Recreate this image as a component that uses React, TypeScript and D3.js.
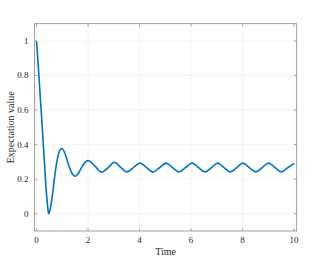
import React from 'react';
import * as d3 from 'd3';

// readings: time and expectation value
const timeVals = [0, 0.05, 0.1, 0.15, 0.2, 0.25, 0.3, 0.35, 0.4, 0.44, 0.47, 0.52, 0.6, 0.69, 0.8, 0.9, 0.99, 1.1, 1.25, 1.4, 1.5, 1.6, 1.75, 1.9, 2.02,
  2.27, 2.52, 2.77, 3.02, 3.27, 3.51, 3.76, 4.02, 4.27, 4.52, 4.77, 5.03, 5.28, 5.53, 5.78, 6.04, 6.29, 6.54, 6.79, 7.03, 7.28, 7.52, 7.77, 8.01, 8.26, 8.52, 8.76, 9.01, 9.26, 9.5, 9.75, 10];
const expVals = [1, 0.89, 0.78, 0.66, 0.55, 0.43, 0.31, 0.19, 0.09, 0.03, 0.0, 0.02, 0.09, 0.2, 0.31, 0.365, 0.378, 0.35, 0.28, 0.228, 0.217, 0.228, 0.268, 0.3, 0.307,
  0.275, 0.24, 0.266, 0.298, 0.268, 0.242, 0.267, 0.294, 0.267, 0.241, 0.266, 0.293, 0.267, 0.242, 0.267, 0.293, 0.267, 0.242, 0.267, 0.293, 0.267, 0.242, 0.267, 0.293, 0.267, 0.242, 0.267, 0.293, 0.267, 0.242, 0.266, 0.292];

const xTicks = [0, 2, 4, 6, 8, 10];
const yTicks = [0, 0.2, 0.4, 0.6, 0.8, 1];

const W = 332, H = 264;
const left = 34.5, right = 296.7, top = 23.7, bottom = 231;

export default function App() {
  const x = d3.scaleLinear().domain([-0.08, 10.1]).range([left, right]);
  const y = d3.scaleLinear().domain([-0.1, 1.1]).range([bottom, top]);
  const pts: [number, number][] = timeVals.map((t, i) => [t, expVals[i]]);
  const line = d3.line<[number, number]>()
    .x(d => x(d[0]))
    .y(d => y(d[1]))
    .curve(d3.curveCatmullRom.alpha(0.5));
  const axisCol = '#8a8a8a';
  const font = '"Liberation Serif", "Times New Roman", serif';
  const tl = 2.6;

  return (
    <div style={{ position: 'absolute', left: 0, top: 0 }}>
      <svg width={W} height={H} style={{ display: 'block', background: '#fff' }}>
        {/* grid */}
        <g stroke="#ececec" strokeWidth={0.6}>
          {xTicks.map(t => <line key={'gx' + t} x1={x(t)} x2={x(t)} y1={top} y2={bottom} />)}
          {yTicks.map(t => <line key={'gy' + t} x1={left} x2={right} y1={y(t)} y2={y(t)} />)}
        </g>
        {/* data */}
        <path d={line(pts) || ''} fill="none" stroke="#0072BD" strokeWidth={1.6} strokeLinejoin="round" />
        {/* box */}
        <rect x={left} y={top} width={right - left} height={bottom - top} fill="none" stroke={axisCol} strokeWidth={0.8} />
        <g stroke={axisCol} strokeWidth={0.8}>
          {xTicks.map(t => (
            <g key={'tx' + t}>
              <line x1={x(t)} x2={x(t)} y1={bottom} y2={bottom - tl} />
              <line x1={x(t)} x2={x(t)} y1={top} y2={top + tl} />
            </g>
          ))}
          {yTicks.map(t => (
            <g key={'ty' + t}>
              <line x1={left} x2={left + tl} y1={y(t)} y2={y(t)} />
              <line x1={right} x2={right - tl} y1={y(t)} y2={y(t)} />
            </g>
          ))}
        </g>
        <g fontFamily={font} fontSize={9} fill="#262626">
          {xTicks.map(t => (
            <text key={'lx' + t} x={x(t)} y={243} textAnchor="middle">{t}</text>
          ))}
          {yTicks.map(t => (
            <text key={'ly' + t} x={left - 6} y={y(t)} dy="0.33em" textAnchor="end">{t}</text>
          ))}
        </g>
        <text x={(left + right) / 2} y={255} textAnchor="middle" fontFamily={font} fontSize={10} fill="#262626">Time</text>
        <text transform={`translate(14,${(top + bottom) / 2}) rotate(-90)`} textAnchor="middle" fontFamily={font} fontSize={10} fill="#262626">Expectation value</text>
      </svg>
    </div>
  );
}
